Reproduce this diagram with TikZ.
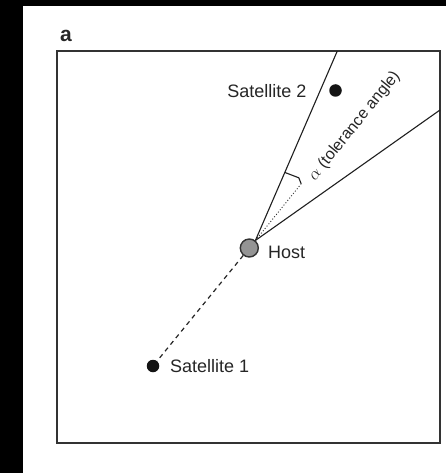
\documentclass[tikz,border=0pt]{standalone}
\usepackage{fontspec}
\setmainfont{Liberation Sans}
\usetikzlibrary{calc}
\begin{document}
\begin{tikzpicture}[x=1pt,y=-1pt,
  frame/.style={draw=black!80,line width=1.5pt},
  ray/.style={draw=black!88,line width=1.1pt},
  hostdot/.style={circle,draw=black!80,fill=black!42,line width=1.4pt,minimum size=18pt,inner sep=0pt},
  satdot/.style={circle,fill=black!92,minimum size=12.5pt,inner sep=0pt},
  lab/.style={font=\fontsize{18}{18}\selectfont,text=black!85,inner sep=0pt}]
\useasboundingbox (0,0) rectangle (446,473);
\fill[black] (0,0) rectangle (446,473);
\fill[white] (23,6) rectangle (446,473);
\node[font=\bfseries\fontsize{21}{21}\selectfont,text=black!85,inner sep=0pt] (panel) at (66,36) {a};
\draw[frame] (57,51) rectangle (440,443);
\node[hostdot] (host) at (249.3,248) {};
\node[satdot] (s1) at (153,366) {};
\node[satdot] (s2) at (335.5,90.5) {};
\coordinate (apex) at (host.51);
\coordinate (t1) at (337.3,51);
\coordinate (t2) at (440,110);
\coordinate (p1) at (285,172.5);
\coordinate (pc) at (298.8,177.8);
\coordinate (pe) at (301.2,183.8);
\draw[ray] (apex) -- (t1);
\draw[ray] (apex) -- (t2);
\draw[black!85,line width=1.2pt,dash pattern=on 4.5pt off 4pt] (host) -- (s1);
\draw[black!80,line width=0.9pt,dash pattern=on 1pt off 2pt] (apex) -- (pe);
\draw[black!88,line width=1.1pt] (p1) -- (pc) -- (pe);
\node[lab,anchor=east] (l2) at (306.7,91.5) {Satellite 2};
\node[lab,anchor=west] (lh) at (268,252) {Host};
\node[lab,anchor=west] (l1) at (170,366.5) {Satellite 1};
\node[font=\fontsize{16}{16}\selectfont,text=black!85,inner sep=0pt,rotate=51] (tol) at (354.5,126) {$\alpha$ (tolerance angle)};
\end{tikzpicture}
\end{document}
